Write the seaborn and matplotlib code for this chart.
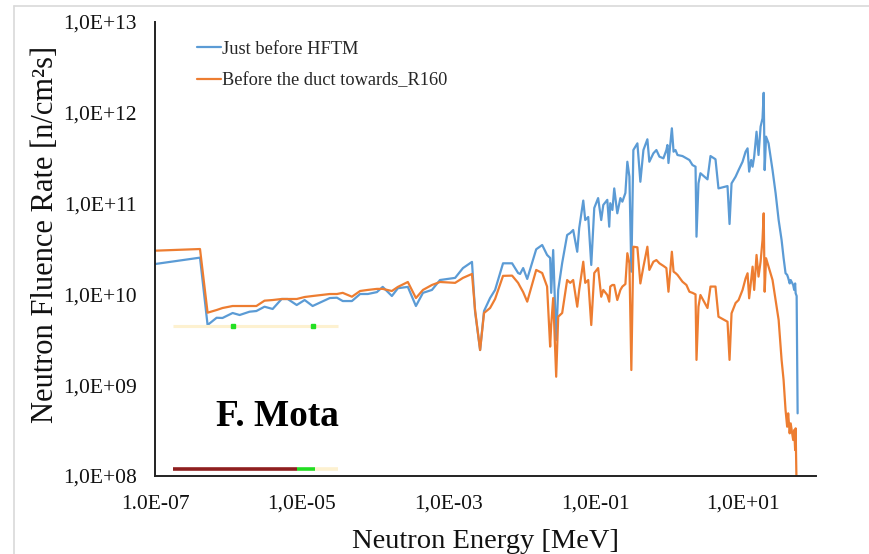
import numpy as np
import pandas as pd
import matplotlib
matplotlib.use("Agg")
import matplotlib.pyplot as plt
from matplotlib.ticker import LogLocator, FixedLocator, FixedFormatter, NullFormatter
from matplotlib.lines import Line2D
import seaborn as sns

# ---------------- data ----------------
energy_mev = [
    1.0e-7, 4.1e-7, 5.2e-7, 6.9e-7, 8.3e-7, 1.14e-6, 1.42e-6, 1.94e-6, 2.4e-6, 3.1e-6,
    4.0e-6, 5.3e-6, 6.4e-6, 8.5e-6, 1.09e-5, 1.40e-5, 2.4e-5, 3.0e-5, 3.6e-5, 4.8e-5,
    6.2e-5, 7.9e-5, 1.05e-4, 1.26e-4, 1.68e-4, 2.03e-4, 2.77e-4, 3.57e-4, 4.45e-4, 5.90e-4,
    7.59e-4, 1.22e-3, 1.56e-3, 2.07e-3, 2.28e-3, 2.67e-3, 3.02e-3, 3.65e-3, 4.27e-3, 5.48e-3,
    7.28e-3, 8.79e-3, 9.35e-3, 1.03e-2, 1.17e-2, 1.55e-2, 1.87e-2, 2.18e-2, 2.40e-2, 2.48e-2,
    2.64e-2, 2.90e-2, 3.09e-2, 3.50e-2, 4.09e-2, 4.50e-2, 4.94e-2, 5.61e-2, 5.97e-2, 6.78e-2,
    7.21e-2, 7.92e-2, 8.71e-2, 9.57e-2, 0.108, 0.119, 0.127, 0.144, 0.153, 0.158,
    0.169, 0.179, 0.197, 0.217, 0.231, 0.254, 0.270, 0.288, 0.306, 0.326,
    0.370, 0.406, 0.447, 0.506, 0.538, 0.611, 0.671, 0.738, 0.836, 0.918,
    0.948, 0.98, 1.09, 1.15, 1.22, 1.30, 1.52, 1.72, 1.89, 2.08,
    2.29, 2.36, 2.51, 2.67, 3.33, 3.66, 4.28, 4.70, 6.24, 6.65,
    7.08, 8.04, 8.83, 10.0, 11.0, 11.7, 12.3, 13.1, 13.7, 14.4,
    15.5, 16.5, 17.6, 18.7, 19.4, 20.0, 20.9, 22.6, 25.6, 28.2,
    31.0, 34.0, 36.2, 38.5, 40.5, 41.8, 43.8, 45.2, 48.9, 50.5,
    52.0, 52.8, 54.5, 56.2,
]

flux_hftm = [
    2.16e10, 2.54e10, 4.60e9, 5.53e9, 5.50e9, 6.24e9, 5.93e9, 6.45e9, 6.56e9, 7.32e9,
    6.91e9, 8.90e9, 8.90e9, 7.64e9, 8.67e9, 7.45e9, 9.12e9, 9.2e9, 8.45e9, 8.45e9,
    1.01e10, 1.01e10, 1.06e10, 1.21e10, 9.6e9, 1.17e10, 1.21e10, 7.45e9, 1.04e10, 1.12e10,
    1.44e10, 1.52e10, 1.95e10, 2.28e10, 6.45e9, 2.44e9, 6.56e9, 9.12e9, 1.12e10, 2.20e10,
    2.20e10, 1.72e10, 1.68e10, 1.95e10, 1.48e10, 3.14e10, 3.50e10, 2.72e10, 2.52e10, 1.04e10,
    3.08e10, 3.15e9, 1.12e10, 2.22e10, 4.51e10, 4.74e10, 5.12e10, 2.95e10, 5.38e10, 1.08e11,
    6.59e10, 7.12e10, 2.11e10, 8.95e10, 1.15e11, 6.59e10, 9.66e10, 1.10e11, 5.57e10, 1.01e11,
    8.51e10, 1.47e11, 7.82e10, 1.15e11, 1.05e11, 1.31e11, 2.89e11, 1.98e11, 1.78e10, 3.89e11,
    4.61e11, 1.74e11, 3.89e11, 5.11e11, 2.89e11, 3.58e11, 3.89e11, 3.29e11, 3.15e11, 3.89e11,
    4.42e11, 2.80e11, 6.75e11, 3.73e11, 3.89e11, 3.43e11, 3.34e11, 3.15e11, 3.02e11, 2.66e11,
    2.55e11, 4.32e10, 1.67e11, 2.16e11, 1.85e11, 3.34e11, 3.08e11, 1.47e11, 1.56e11, 5.96e10,
    1.67e11, 1.98e11, 2.34e11, 2.89e11, 3.73e11, 4.06e11, 2.25e11, 3.02e11, 2.55e11, 3.29e11,
    6.19e11, 3.43e11, 7.03e11, 8.69e11, 1.66e12, 2.34e11, 5.46e11, 4.61e11, 2.34e11, 1.30e11,
    6.59e10, 3.97e10, 2.52e10, 1.71e10, 1.64e10, 1.52e10, 1.32e10, 1.44e10, 1.27e10, 1.12e10,
    1.32e10, 1.03e10, 9.6e9, 4.9e8,
]

flux_duct = [
    3.03e10, 3.16e10, 6.29e9, 6.73e9, 7.08e9, 7.45e9, 7.45e9, 7.45e9, 7.45e9, 8.53e9,
    8.67e9, 8.90e9, 8.90e9, 8.90e9, 9.36e9, 9.6e9, 1.01e10, 1.01e10, 1.04e10, 9.43e9,
    1.09e10, 1.12e10, 1.15e10, 1.15e10, 1.09e10, 1.21e10, 1.37e10, 9.12e9, 1.12e10, 1.27e10,
    1.37e10, 1.34e10, 1.52e10, 1.68e10, 6.73e9, 2.44e9, 6.24e9, 7.08e9, 8.90e9, 1.60e10,
    1.61e10, 1.34e10, 1.22e10, 1.06e10, 8.32e9, 1.86e10, 1.72e10, 1.22e10, 2.66e9, 4.60e9,
    9.12e9, 1.24e9, 5.68e9, 6.24e9, 1.44e10, 1.34e10, 1.44e10, 7.32e9, 1.12e10, 2.29e10,
    1.34e10, 1.44e10, 4.60e9, 1.72e10, 1.95e10, 9.43e9, 1.12e10, 9.85e9, 8.32e9, 1.22e10,
    1.27e10, 1.27e10, 8.67e9, 1.12e10, 1.22e10, 1.30e10, 2.84e10, 2.20e10, 1.47e9, 3.35e10,
    3.3e10, 1.32e10, 2.02e10, 3.35e10, 1.86e10, 2.29e10, 2.39e10, 2.20e10, 2.06e10, 1.95e10,
    1.44e10, 1.07e10, 2.95e10, 1.78e10, 1.72e10, 1.64e10, 1.38e10, 1.27e10, 1.07e10, 1.04e10,
    1.0e10, 1.90e9, 7.32e9, 9.85e9, 7.08e9, 1.22e10, 1.22e10, 5.68e9, 5.0e9, 1.90e9,
    6.19e9, 8.04e9, 8.67e9, 1.12e10, 1.50e10, 1.71e10, 9.06e9, 1.44e10, 2.02e10, 1.12e10,
    2.72e10, 1.57e10, 2.29e10, 3.97e10, 7.82e10, 1.07e10, 2.50e10, 2.02e10, 1.44e10, 8.67e9,
    5.22e9, 1.90e9, 1.14e9, 5.33e8, 3.49e8, 4.90e8, 2.95e8, 3.80e8, 2.49e8, 3.21e8,
    1.93e8, 3.35e8, 7.0e7, np.nan,
]

series_names = ["Just before HFTM", "Before the duct towards_R160"]
series_colors = ["#5B9BD5", "#ED7D31"]

x_ticks = [1e-7, 1e-5, 1e-3, 1e-1, 1e1]
x_tick_labels = ["1.0E-07", "1,0E-05", "1,0E-03", "1,0E-01", "1,0E+01"]
y_ticks = [1e8, 1e9, 1e10, 1e11, 1e12, 1e13]
y_tick_labels = ["1,0E+08", "1,0E+09", "1,0E+10", "1,0E+11", "1,0E+12", "1,0E+13"]

x_title = "Neutron Energy [MeV]"
y_title = "Neutron Fluence Rate [n/cm\u00b2s]"
author_text = "F. Mota"

# ---------------- build long-form table ----------------
df = pd.concat([
    pd.DataFrame({"energy": energy_mev, "flux": flux_hftm, "series": series_names[0]}),
    pd.DataFrame({"energy": energy_mev, "flux": flux_duct, "series": series_names[1]}),
], ignore_index=True).dropna()

# ---------------- style ----------------
sns.set_theme(style="white")
plt.rcParams["font.family"] = ["Liberation Serif", "DejaVu Serif"]

fig = plt.figure(figsize=(8.70, 5.54), dpi=100)
ax = fig.add_axes([155 / 870, 1 - 476 / 554, 661 / 870, 454 / 554])

sns.lineplot(data=df, x="energy", y="flux", hue="series", hue_order=series_names,
             palette=series_colors, linewidth=1.6, ax=ax, sort=False, estimator=None)

ax.set_xscale("log")
ax.set_yscale("log")
ax.set_xlim(1e-7, 1e2)
ax.set_ylim(1e8, 1e13)

ax.xaxis.set_major_locator(FixedLocator(x_ticks))
ax.xaxis.set_major_formatter(FixedFormatter(x_tick_labels))
ax.yaxis.set_major_locator(FixedLocator(y_ticks))
ax.yaxis.set_major_formatter(FixedFormatter(y_tick_labels))
ax.xaxis.set_minor_locator(LogLocator(base=10, subs=np.arange(1, 10), numticks=100))
ax.yaxis.set_minor_locator(LogLocator(base=10, subs=np.arange(2, 10), numticks=100))
ax.xaxis.set_minor_formatter(NullFormatter())
ax.yaxis.set_minor_formatter(NullFormatter())

ax.tick_params(which="major", direction="inout", length=9, width=1.2, color="#222222",
               labelsize=15.5, labelcolor="#111111")
ax.tick_params(axis="y", which="major", pad=8.5)
ax.tick_params(axis="x", which="major", pad=9)
ax.tick_params(which="minor", direction="in", length=5, width=1.0, color="#222222")

for side in ["top", "right"]:
    ax.spines[side].set_visible(False)
for side in ["left", "bottom"]:
    ax.spines[side].set_color("#222222")
    ax.spines[side].set_linewidth(1.4)

ax.set_xlabel(x_title, fontsize=20.5, color="#111111", labelpad=11)
ax.set_ylabel(y_title, fontsize=22, color="#111111")
ax.yaxis.set_label_coords(-0.143, 0.531)

handles, labels = ax.get_legend_handles_labels()
ax.legend(handles, labels, loc="upper left", bbox_to_anchor=(0.052, 0.975),
          frameon=False, fontsize=13.2, handlelength=1.3, handletextpad=0.1,
          labelspacing=0.8, borderaxespad=0)

# small stray marks present in the reference image
ax.plot([0.027, 0.277], [0.33, 0.33], transform=ax.transAxes, color="#fdf1d0",
        lw=2.2, solid_capstyle="butt", clip_on=False)
ax.plot([0.118, 0.239], [0.33, 0.33], "s", transform=ax.transAxes, color="#22e022",
        ms=2.6, clip_on=False)
ax.plot([0.027, 0.215], [0.0154, 0.0154], transform=ax.transAxes, color="#8e1f1f",
        lw=2.6, solid_capstyle="butt", clip_on=False)
ax.plot([0.215, 0.242], [0.0154, 0.0154], transform=ax.transAxes, color="#22dd22",
        lw=2.6, solid_capstyle="butt", clip_on=False)
ax.plot([0.242, 0.277], [0.0154, 0.0154], transform=ax.transAxes, color="#fdf1d0",
        lw=2.6, solid_capstyle="butt", clip_on=False)

fig.text(277.5 / 870, 1 - 417 / 554, author_text, fontsize=26.8, fontweight="bold",
         ha="center", va="center", color="black")

# light chart-area border
fig.add_artist(Line2D([14.5 / 870, 1], [1 - 5.5 / 554, 1 - 5.5 / 554],
                      color="#d9d9d9", lw=1.2, transform=fig.transFigure))
fig.add_artist(Line2D([14.5 / 870, 14.5 / 870], [0, 1 - 5.5 / 554],
                      color="#d9d9d9", lw=1.2, transform=fig.transFigure))

fig.savefig("out.png", dpi=100)
